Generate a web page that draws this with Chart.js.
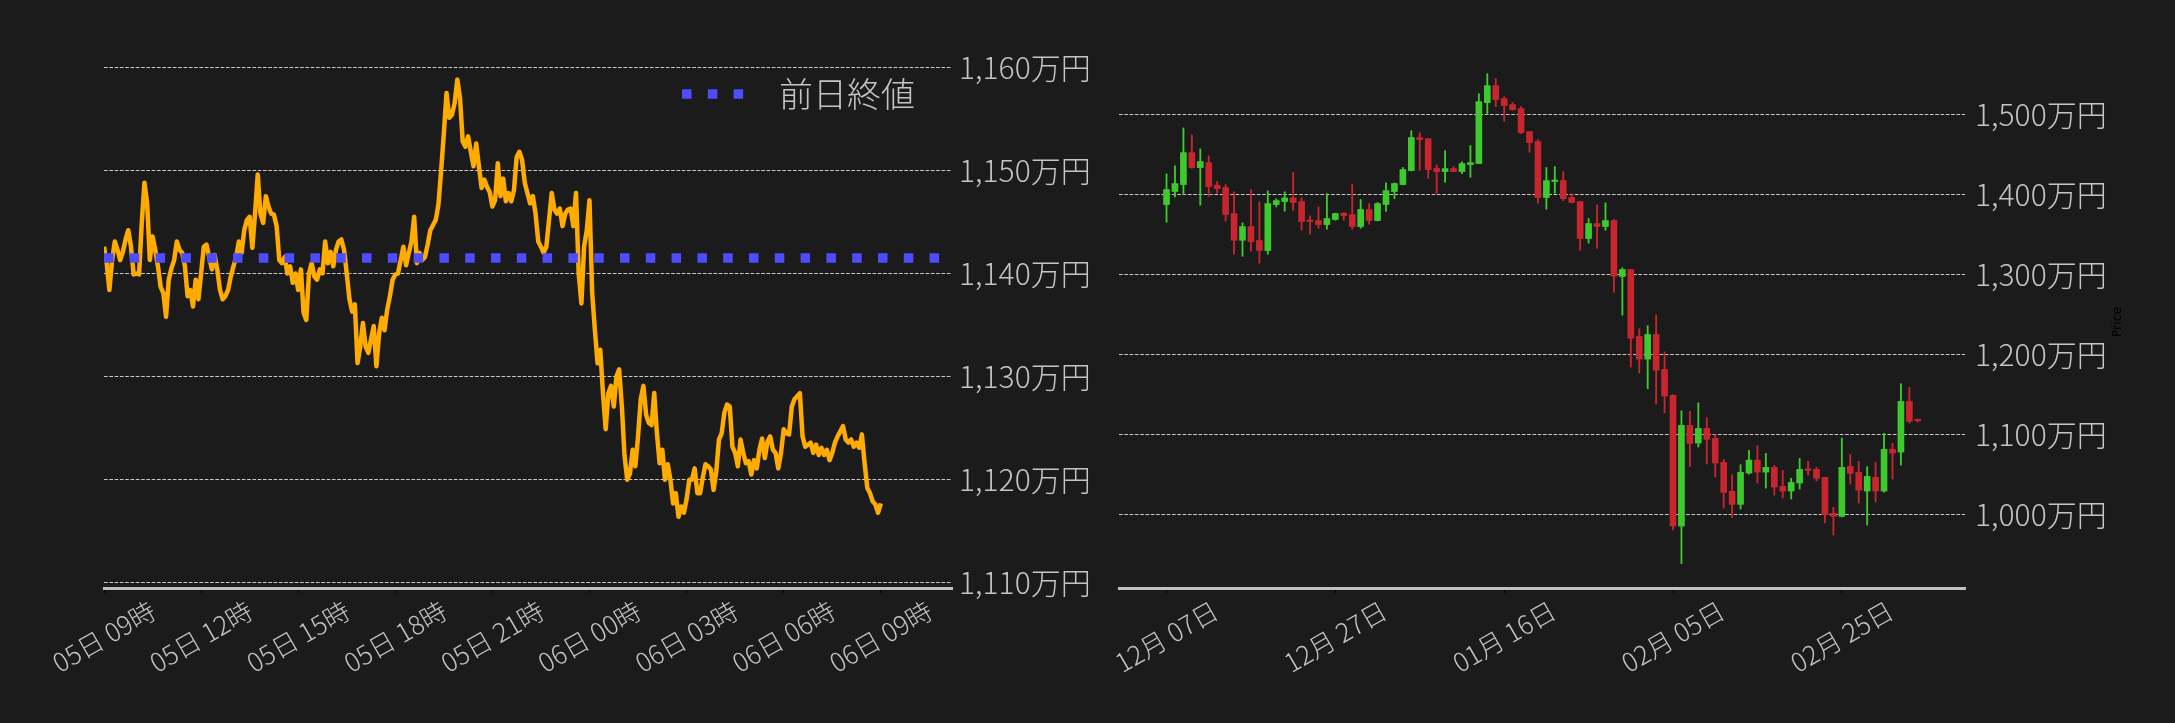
<!DOCTYPE html>
<html>
<head>
<meta charset="utf-8">
<script src="https://cdn.jsdelivr.net/npm/chart.js@4.4.1/dist/chart.umd.min.js"></script>
<style>
html, body { margin: 0; padding: 0; background: #1b1b1b; }
#wrap { position: relative; width: 2175px; height: 723px; overflow: hidden; }
canvas { position: absolute; top: 0; }
#left { left: 0; }
#right { left: 1100px; }
</style>
</head>
<body>
<div id="wrap">
  <canvas id="left" width="1100" height="723"></canvas>
  <canvas id="right" width="1075" height="723"></canvas>
</div>
<script>
// ── Intraday data (万円, one value every 5 minutes from 05日 09時) ──
const intradayStepMin = 5;
const intradayPrice = [
  1142.6, 1141.0, 1138.4, 1141.3, 1143.1, 1142.3, 1141.3, 1142.1, 1143.3, 1144.2,
  1142.6, 1139.9, 1140.0, 1139.9, 1144.9, 1148.8, 1146.8, 1141.3, 1143.6, 1142.3,
  1140.7, 1138.7, 1138.1, 1135.8, 1139.4, 1140.5, 1141.3, 1143.1, 1142.3, 1142.0,
  1140.7, 1137.8, 1138.4, 1136.8, 1139.4, 1137.5, 1140.0, 1142.6, 1142.8, 1141.6,
  1140.4, 1141.8, 1140.4, 1138.4, 1137.5, 1137.8, 1138.4, 1139.7, 1140.7, 1141.6,
  1143.1, 1142.0, 1144.2, 1145.2, 1145.5, 1142.5, 1145.8, 1149.6, 1145.8, 1144.9,
  1147.5, 1146.5, 1145.8, 1145.7, 1144.6, 1141.3, 1141.0, 1141.6, 1140.0, 1140.7,
  1139.1, 1140.0, 1138.4, 1140.4, 1136.2, 1135.5, 1140.0, 1141.0, 1139.7, 1139.4,
  1140.4, 1140.0, 1143.1, 1141.0, 1142.1, 1140.7, 1142.3, 1143.1, 1143.3, 1142.3,
  1140.0, 1137.5, 1136.3, 1137.0, 1131.3, 1132.9, 1135.2, 1132.9, 1132.3, 1133.6,
  1134.9, 1131.0, 1134.2, 1135.7, 1134.5, 1136.5, 1137.8, 1139.4, 1139.9, 1140.0,
  1141.3, 1142.6, 1140.8, 1142.0, 1143.1, 1145.5, 1141.0, 1142.0, 1141.3, 1141.6,
  1142.8, 1144.2, 1144.7, 1145.2, 1146.7, 1150.0, 1153.6, 1157.5, 1155.1, 1155.4,
  1156.5, 1158.8, 1157.0, 1152.8, 1152.3, 1153.3, 1151.8, 1150.4, 1152.6, 1150.4,
  1148.3, 1149.1, 1148.4, 1147.9, 1146.5, 1147.1, 1150.7, 1147.5, 1149.2, 1147.0,
  1147.8, 1147.0, 1148.1, 1151.3, 1151.8, 1151.0, 1148.8, 1147.8, 1146.8, 1147.5,
  1145.8, 1143.1, 1142.6, 1142.0, 1142.6, 1145.2, 1147.8, 1146.2, 1145.8, 1146.3,
  1144.6, 1145.8, 1146.2, 1146.3, 1144.6, 1147.8, 1140.0, 1137.1, 1142.6, 1144.2,
  1147.1, 1138.1, 1134.5, 1131.3, 1132.6, 1128.4, 1124.9, 1128.4, 1129.1, 1127.1,
  1130.0, 1130.7, 1127.1, 1122.3, 1120.0, 1120.6, 1122.9, 1121.3, 1124.2, 1127.8,
  1129.1, 1126.3, 1125.5, 1125.3, 1128.4, 1124.5, 1121.6, 1122.9, 1120.0, 1121.5,
  1120.0, 1117.7, 1118.7, 1116.4, 1117.4, 1116.8, 1118.1, 1120.0, 1120.0, 1121.1,
  1118.7, 1118.7, 1120.2, 1121.5, 1121.3, 1121.0, 1119.0, 1120.8, 1123.9, 1124.5,
  1126.5, 1127.3, 1127.1, 1123.2, 1122.6, 1121.3, 1123.9, 1122.6, 1121.6, 1121.8,
  1120.5, 1121.9, 1121.1, 1122.9, 1124.0, 1122.1, 1123.7, 1124.2, 1122.9, 1122.6,
  1121.1, 1122.6, 1124.9, 1124.5, 1124.4, 1127.1, 1127.8, 1128.1, 1128.4, 1124.2,
  1123.2, 1123.4, 1123.6, 1122.6, 1123.4, 1122.4, 1123.1, 1122.4, 1122.9, 1121.9,
  1122.6, 1123.6, 1124.2, 1124.7, 1125.2, 1123.9, 1123.6, 1123.9, 1123.2, 1123.6,
  1123.1, 1124.4, 1121.6, 1119.2, 1118.7, 1117.9, 1117.6, 1116.8, 1117.7
];
const prevClose = 1141.5;
const intradayTickHours = [0, 3, 6, 9, 12, 15, 18, 21, 24];
const intradayTickLabels = ['05日 09時', '05日 12時', '05日 15時', '05日 18時', '05日 21時',
                            '06日 00時', '06日 03時', '06日 06時', '06日 09時'];
const intradayYTicks = [1110, 1120, 1130, 1140, 1150, 1160];

// ── Daily candles (万円, day 0 = 12月07日) ──
const candleOpen = [
  1387.9, 1404.2, 1412.9, 1452.9, 1434.2, 1440.4, 1412.1, 1409.2, 1376.7, 1343.3,
  1360.4, 1342.9, 1330.4, 1387.9, 1391.7, 1396.3, 1391.7, 1367.9, 1367.9, 1362.9,
  1369.2, 1377.1, 1375.4, 1360.4, 1381.7, 1367.9, 1387.9, 1404.2, 1412.9, 1430.4,
  1471.7, 1470.4, 1432.9, 1429.2, 1432.9, 1429.2, 1437.9, 1439.2, 1515.4, 1536.7,
  1520.4, 1512.9, 1508.0, 1479.2, 1466.7, 1396.7, 1416.7, 1417.9, 1396.7, 1391.7,
  1345.4, 1364.2, 1360.4, 1367.9, 1297.9, 1306.7, 1222.9, 1194.6, 1225.4, 1181.7,
  1149.2, 985.8, 1111.7, 1089.6, 1107.9, 1095.4, 1065.4, 1029.2, 1012.9, 1052.1,
  1068.3, 1053.3, 1059.2, 1035.4, 1029.6, 1039.6, 1056.7, 1056.7, 1046.7, 1001.7,
  997.9, 1060.4, 1052.9, 1029.6, 1046.7, 1029.6, 1081.7, 1078.3, 1141.7, 1117.9
];
const candleHigh = [
  1426.3, 1436.3, 1483.8, 1475.0, 1457.5, 1448.8, 1416.7, 1412.9, 1403.8, 1365.0,
  1406.3, 1391.3, 1405.0, 1395.0, 1403.8, 1428.0, 1396.3, 1373.8, 1385.0, 1401.7,
  1377.1, 1377.9, 1412.9, 1394.2, 1389.2, 1390.4, 1415.0, 1415.0, 1434.2, 1480.4,
  1477.9, 1470.4, 1437.5, 1455.4, 1435.4, 1441.3, 1461.7, 1526.7, 1551.7, 1545.4,
  1522.9, 1515.4, 1510.4, 1479.2, 1469.2, 1434.2, 1435.4, 1429.2, 1401.3, 1392.1,
  1370.4, 1387.5, 1390.0, 1369.2, 1308.8, 1306.7, 1232.5, 1236.3, 1250.0, 1203.8,
  1150.0, 1130.0, 1129.2, 1140.0, 1121.3, 1100.0, 1069.2, 1050.0, 1062.5, 1080.4,
  1086.3, 1076.7, 1061.7, 1055.4, 1045.4, 1070.4, 1066.7, 1059.2, 1046.7, 1009.2,
  1095.8, 1075.0, 1066.7, 1060.0, 1065.4, 1101.7, 1089.2, 1163.8, 1159.2, 1119.6
];
const candleLow = [
  1365.8, 1397.5, 1400.0, 1433.3, 1387.1, 1398.3, 1402.1, 1367.1, 1325.8, 1323.3,
  1329.6, 1314.6, 1325.8, 1385.0, 1379.6, 1380.8, 1355.8, 1350.8, 1358.3, 1357.1,
  1368.3, 1368.3, 1357.1, 1358.3, 1363.3, 1367.5, 1379.2, 1395.4, 1412.5, 1430.0,
  1430.8, 1420.8, 1401.7, 1415.8, 1429.2, 1426.7, 1422.1, 1439.2, 1500.8, 1510.4,
  1492.1, 1505.8, 1476.7, 1453.3, 1389.6, 1382.1, 1402.1, 1392.9, 1390.0, 1330.8,
  1339.6, 1333.3, 1355.8, 1278.3, 1249.6, 1184.6, 1177.1, 1157.5, 1138.3, 1127.5,
  980.8, 938.8, 1060.0, 1084.6, 1063.3, 1047.1, 1008.3, 996.3, 1007.1, 1050.8,
  1039.6, 1033.3, 1024.6, 1020.8, 1019.6, 1032.1, 1049.6, 1042.1, 989.6, 974.6,
  997.1, 1038.3, 1014.6, 987.1, 1015.8, 1028.3, 1044.6, 1062.1, 1114.6, 1115.8
];
const candleClose = [
  1406.7, 1414.2, 1452.9, 1434.2, 1441.7, 1410.4, 1407.9, 1375.4, 1343.3, 1360.4,
  1341.7, 1330.4, 1389.2, 1392.9, 1396.3, 1390.4, 1366.7, 1366.7, 1362.9, 1370.4,
  1376.7, 1374.2, 1360.4, 1381.7, 1367.9, 1389.2, 1405.4, 1414.2, 1431.7, 1471.7,
  1469.2, 1431.7, 1429.2, 1432.9, 1429.2, 1439.2, 1440.4, 1516.7, 1536.7, 1519.2,
  1511.7, 1506.7, 1477.9, 1465.4, 1396.7, 1417.9, 1417.9, 1395.4, 1390.4, 1345.4,
  1364.2, 1360.4, 1367.9, 1298.3, 1306.7, 1220.8, 1194.6, 1225.4, 1180.8, 1148.3,
  985.8, 1111.7, 1089.2, 1107.9, 1094.2, 1064.6, 1027.9, 1012.9, 1052.9, 1068.3,
  1053.3, 1059.2, 1034.6, 1029.6, 1040.4, 1056.7, 1055.4, 1045.4, 1000.0, 997.9,
  1059.2, 1051.7, 1030.8, 1047.9, 1029.6, 1081.7, 1077.1, 1141.7, 1116.7, 1117.5
];
const dailyTickDays = [0, 20, 40, 60, 80];
const dailyTickLabels = ['12月 07日', '12月 27日', '01月 16日', '02月 05日', '02月 25日'];
const dailyYTicks = [1000, 1100, 1200, 1300, 1400, 1500];

// ── Styling ──
const FONT = '"Noto Sans CJK JP", "Noto Sans CJK SC", sans-serif';
const TEXT = '#c4c4c4';
const GRID = 'rgba(220,220,220,0.9)';
const UP = '#3ec92f';
const DOWN = '#c8252f';
Chart.defaults.font.family = FONT;
Chart.defaults.font.weight = 300;

const yen = v => v.toLocaleString('ja-JP') + '万円';

// rotated (30°) x labels centred under each tick
const rotatedXLabels = {
    id: 'rotatedXLabels',
    afterDraw(chart, args, opts) {
        const sx = chart.scales.x, ctx = chart.ctx, a = Math.PI / 6;
        ctx.save();
        ctx.font = '300 ' + opts.size + 'px ' + FONT;
        ctx.fillStyle = TEXT;
        ctx.textAlign = 'center';
        ctx.textBaseline = 'middle';
        opts.values.forEach((v, i) => {
            const t = opts.labels[i];
            const w = ctx.measureText(t).width;
            const boxH = w * Math.sin(a) + opts.size * Math.cos(a);
            ctx.save();
            ctx.translate(sx.getPixelForValue(v), sx.top + opts.pad + boxH / 2);
            ctx.rotate(-a);
            ctx.fillText(t, 0, 0);
            ctx.restore();
        });
        ctx.restore();
    }
};

// legend: dotted sample + 前日終値
const prevCloseLegend = {
    id: 'prevCloseLegend',
    afterDraw(chart) {
        const ctx = chart.ctx;
        ctx.save();
        ctx.strokeStyle = '#4d4dff';
        ctx.lineWidth = 9.5;
        ctx.lineCap = 'butt';
        ctx.setLineDash([9.5, 16.3]);
        ctx.beginPath();
        ctx.moveTo(682, 94);
        ctx.lineTo(744, 94);
        ctx.stroke();
        ctx.setLineDash([]);
        ctx.font = '300 34px ' + FONT;
        ctx.fillStyle = TEXT;
        ctx.textAlign = 'left';
        ctx.textBaseline = 'middle';
        ctx.fillText('前日終値', 779, 94);
        ctx.restore();
    }
};

// faint "Price" y title on the right
const priceTitle = {
    id: 'priceTitle',
    afterDraw(chart) {
        const ctx = chart.ctx;
        ctx.save();
        ctx.translate(1018, 322);
        ctx.rotate(-Math.PI / 2);
        ctx.font = '12.5px "DejaVu Sans"';
        ctx.fillStyle = '#000';
        ctx.textAlign = 'center';
        ctx.textBaseline = 'middle';
        ctx.fillText('Price', 0, 0);
        ctx.restore();
    }
};

// ── Left: intraday line ──
new Chart(document.getElementById('left'), {
    type: 'line',
    data: {
        datasets: [
            {
                label: '前日終値',
                data: [{ x: 0, y: prevClose }, { x: 26.2, y: prevClose }],
                borderColor: '#4d4dff',
                borderWidth: 9.5,
                borderDash: [9.5, 16.3],
                borderCapStyle: 'butt',
                pointRadius: 0,
                order: 0
            },
            {
                label: 'price',
                data: intradayPrice.map((v, i) => ({ x: i * intradayStepMin / 60, y: v })),
                borderColor: '#ffab00',
                borderWidth: 4.5,
                borderJoinStyle: 'round',
                pointRadius: 0,
                tension: 0,
                order: 1
            }
        ]
    },
    options: {
        responsive: false,
        animation: false,
        layout: { padding: { left: 104, top: 49, right: 0, bottom: 0 } },
        plugins: {
            legend: { display: false },
            tooltip: { enabled: false },
            rotatedXLabels: { values: intradayTickHours, labels: intradayTickLabels, size: 26, pad: 9 }
        },
        scales: {
            x: {
                type: 'linear',
                min: 0,
                max: 26.2,
                offset: false,
                afterBuildTicks: s => { s.ticks = intradayTickHours.map(v => ({ value: v })); },
                afterFit: s => { s.height = 135; },
                ticks: { display: false },
                grid: { display: true, drawOnChartArea: false, drawTicks: true, tickLength: 5, tickColor: '#000' },
                border: { display: true, color: '#c0c0c0', width: 3 }
            },
            y: {
                position: 'right',
                min: 1109.5,
                max: 1161.77,
                afterBuildTicks: s => { s.ticks = intradayYTicks.map(v => ({ value: v })); },
                afterFit: s => { s.width = 148; },
                ticks: { padding: 7, color: TEXT, font: { size: 30, weight: 300 }, callback: yen },
                grid: { color: GRID, lineWidth: 1, drawTicks: false },
                border: { display: false, dash: [3.7, 1.6] }
            }
        }
    },
    plugins: [rotatedXLabels, prevCloseLegend]
});

// ── Right: daily candles ──
const candleColors = candleOpen.map((o, i) => candleClose[i] >= o ? UP : DOWN);

new Chart(document.getElementById('right'), {
    type: 'bar',
    data: {
        datasets: [
            {
                label: 'body',
                data: candleOpen.map((o, i) => ({ x: i, y: [o, candleClose[i]] })),
                backgroundColor: candleColors,
                barThickness: 6,
                minBarLength: 1.5,
                grouped: false,
                order: 0
            },
            {
                label: 'wick',
                data: candleLow.map((l, i) => ({ x: i, y: [l, candleHigh[i]] })),
                backgroundColor: candleColors,
                barThickness: 1.2,
                grouped: false,
                order: 1
            }
        ]
    },
    options: {
        responsive: false,
        animation: false,
        layout: { padding: { left: 19, top: 49, right: 0, bottom: 0 } },
        plugins: {
            legend: { display: false },
            tooltip: { enabled: false },
            rotatedXLabels: { values: dailyTickDays, labels: dailyTickLabels, size: 26, pad: 9 }
        },
        scales: {
            x: {
                type: 'linear',
                min: -5.63,
                max: 94.59,
                offset: false,
                afterBuildTicks: s => { s.ticks = dailyTickDays.map(v => ({ value: v })); },
                afterFit: s => { s.height = 135; },
                ticks: { display: false },
                grid: { display: true, drawOnChartArea: false, drawTicks: true, tickLength: 5, tickColor: '#000', offset: false },
                border: { display: true, color: '#c0c0c0', width: 3 }
            },
            y: {
                position: 'right',
                min: 908.3,
                max: 1582.5,
                afterBuildTicks: s => { s.ticks = dailyYTicks.map(v => ({ value: v })); },
                afterFit: s => { s.width = 210; },
                ticks: { padding: 10, color: TEXT, font: { size: 30, weight: 300 }, callback: yen },
                grid: { color: GRID, lineWidth: 1, drawTicks: false },
                border: { display: false, dash: [3.7, 1.6] }
            }
        }
    },
    plugins: [rotatedXLabels, priceTitle]
});
</script>
</body>
</html>
